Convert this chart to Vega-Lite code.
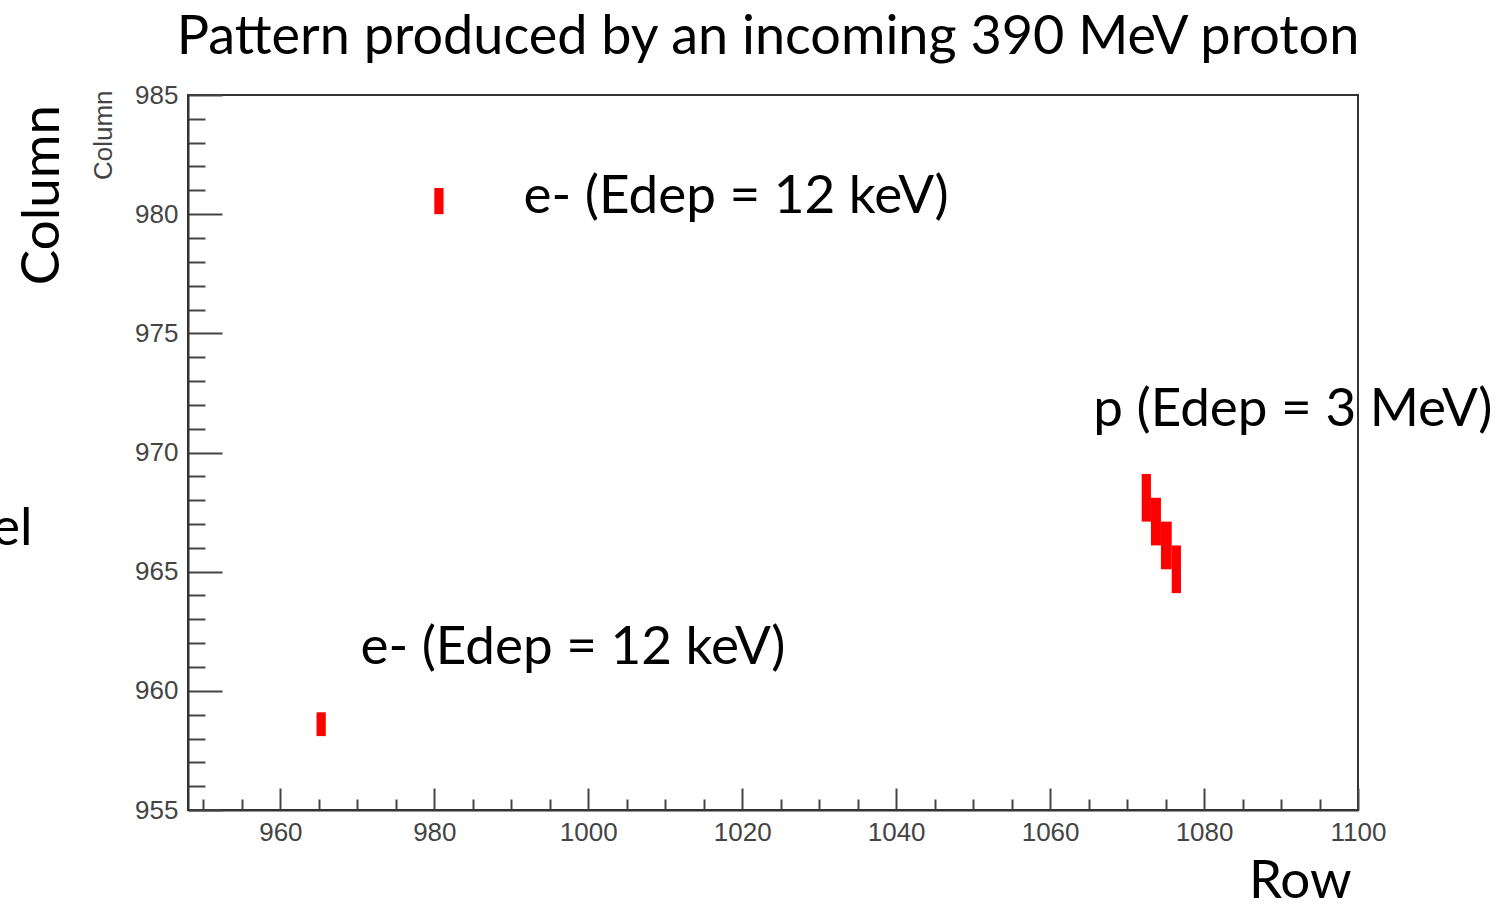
{
  "$schema": "https://vega.github.io/schema/vega-lite/v6.json",
  "width": 1170,
  "height": 715,
  "autosize": {"type": "none"},
  "padding": {"left": 188, "top": 95, "right": 146, "bottom": 99},
  "background": "white",
  "title": {
    "text": "Pattern produced by an incoming 390 MeV proton",
    "font": "Lato",
    "fontSize": 54,
    "fontWeight": "normal",
    "color": "black",
    "anchor": "middle",
    "dx": -5,
    "offset": 17
  },
  "config": {
    "view": {"stroke": "#333333", "strokeWidth": 2},
    "axis": {"grid": false}
  },
  "datasets": {
    "cells": [
      {"particle": "e1", "x": 980.0, "x2": 981.2, "y": 980.0, "y2": 981.1},
      {"particle": "e2", "x": 964.7, "x2": 965.9, "y": 958.1, "y2": 959.1},
      {"particle": "p", "x": 1071.9, "x2": 1073.1, "y": 967.1, "y2": 969.1},
      {"particle": "p", "x": 1073.1, "x2": 1074.4, "y": 966.1, "y2": 968.1},
      {"particle": "p", "x": 1074.4, "x2": 1075.8, "y": 965.1, "y2": 967.1},
      {"particle": "p", "x": 1075.8, "x2": 1077.0, "y": 964.1, "y2": 966.1}
    ],
    "notes": [
      {"x": 991.6, "y": 980.7, "label": "e- (Edep = 12 keV)"},
      {"x": 970.4, "y": 961.8, "label": "e- (Edep = 12 keV)"},
      {"x": 1065.6, "y": 971.8, "label": "p (Edep = 3 MeV)"}
    ],
    "outer": [
      {"x": 1092.5, "y": 952.0, "label": "Row"}
    ],
    "leftcut": [
      {"x": 927.8, "y": 966.8, "label": "el"}
    ],
    "side": [
      {"x": 929.1, "y": 980.8, "label": "Column"}
    ]
  },
  "layer": [
    {
      "data": {"name": "cells"},
      "mark": {"type": "rect", "color": "#ff0000"},
      "encoding": {
        "x": {
          "field": "x", "type": "quantitative",
          "scale": {"domain": [948, 1100], "nice": false, "zero": false},
          "axis": {
            "title": null,
            "values": [950,955,960,965,970,975,980,985,990,995,1000,1005,1010,1015,1020,1025,1030,1035,1040,1045,1050,1055,1060,1065,1070,1075,1080,1085,1090,1095,1100],
            "tickCount": 200,
            "labelExpr": "datum.value % 20 === 0 ? datum.label : ''",
            "format": "d",
            "tickSize": {"condition": {"test": "datum.value % 20 === 0", "value": -22}, "value": -11},
            "tickWidth": 2,
            "tickColor": "#444444",
            "domainColor": "#333333",
            "domainWidth": 2,
            "labelPadding": 31,
            "labelFont": "Liberation Sans",
            "labelFontSize": 26,
            "labelColor": "#444444",
            "labelFlush": false,
            "labelOverlap": false
          }
        },
        "x2": {"field": "x2"},
        "y": {
          "field": "y", "type": "quantitative",
          "scale": {"domain": [955, 985], "nice": false, "zero": false},
          "axis": {
            "title": "Column",
            "titleFont": "Liberation Sans",
            "titleFontSize": 26,
            "titleFontWeight": "normal",
            "titleColor": "#444444",
            "titleAnchor": "end",
            "titleAngle": 270,
            "titleX": -85,
            "titleY": -5,
            "titleAlign": "right",
            "titleBaseline": "middle",
            "values": [955,956,957,958,959,960,961,962,963,964,965,966,967,968,969,970,971,972,973,974,975,976,977,978,979,980,981,982,983,984,985],
            "tickCount": 200,
            "labelExpr": "datum.value % 5 === 0 ? datum.label : ''",
            "format": "d",
            "tickSize": {"condition": {"test": "datum.value % 5 === 0", "value": -34}, "value": -17},
            "tickWidth": 2,
            "tickColor": "#444444",
            "domainColor": "#333333",
            "domainWidth": 2,
            "labelPadding": 44,
            "labelFont": "Liberation Sans",
            "labelFontSize": 26,
            "labelColor": "#444444",
            "labelFlush": false,
            "labelOverlap": false
          }
        },
        "y2": {"field": "y2"}
      }
    },
    {
      "data": {"name": "notes"},
      "mark": {"type": "text", "font": "Lato", "fontSize": 53, "align": "left", "baseline": "middle", "color": "black"},
      "encoding": {
        "x": {"field": "x", "type": "quantitative"},
        "y": {"field": "y", "type": "quantitative"},
        "text": {"field": "label"}
      }
    },
    {
      "data": {"name": "outer"},
      "mark": {"type": "text", "font": "Lato", "fontSize": 53, "align": "center", "baseline": "middle", "color": "black"},
      "encoding": {
        "x": {"field": "x", "type": "quantitative"},
        "y": {"field": "y", "type": "quantitative"},
        "text": {"field": "label"}
      }
    },
    {
      "data": {"name": "leftcut"},
      "mark": {"type": "text", "font": "Lato", "fontSize": 53, "align": "right", "baseline": "middle", "color": "black"},
      "encoding": {
        "x": {"field": "x", "type": "quantitative"},
        "y": {"field": "y", "type": "quantitative"},
        "text": {"field": "label"}
      }
    },
    {
      "data": {"name": "side"},
      "mark": {"type": "text", "font": "Lato", "fontSize": 53, "angle": 270, "align": "center", "baseline": "middle", "color": "black"},
      "encoding": {
        "x": {"field": "x", "type": "quantitative"},
        "y": {"field": "y", "type": "quantitative"},
        "text": {"field": "label"}
      }
    }
  ]
}
